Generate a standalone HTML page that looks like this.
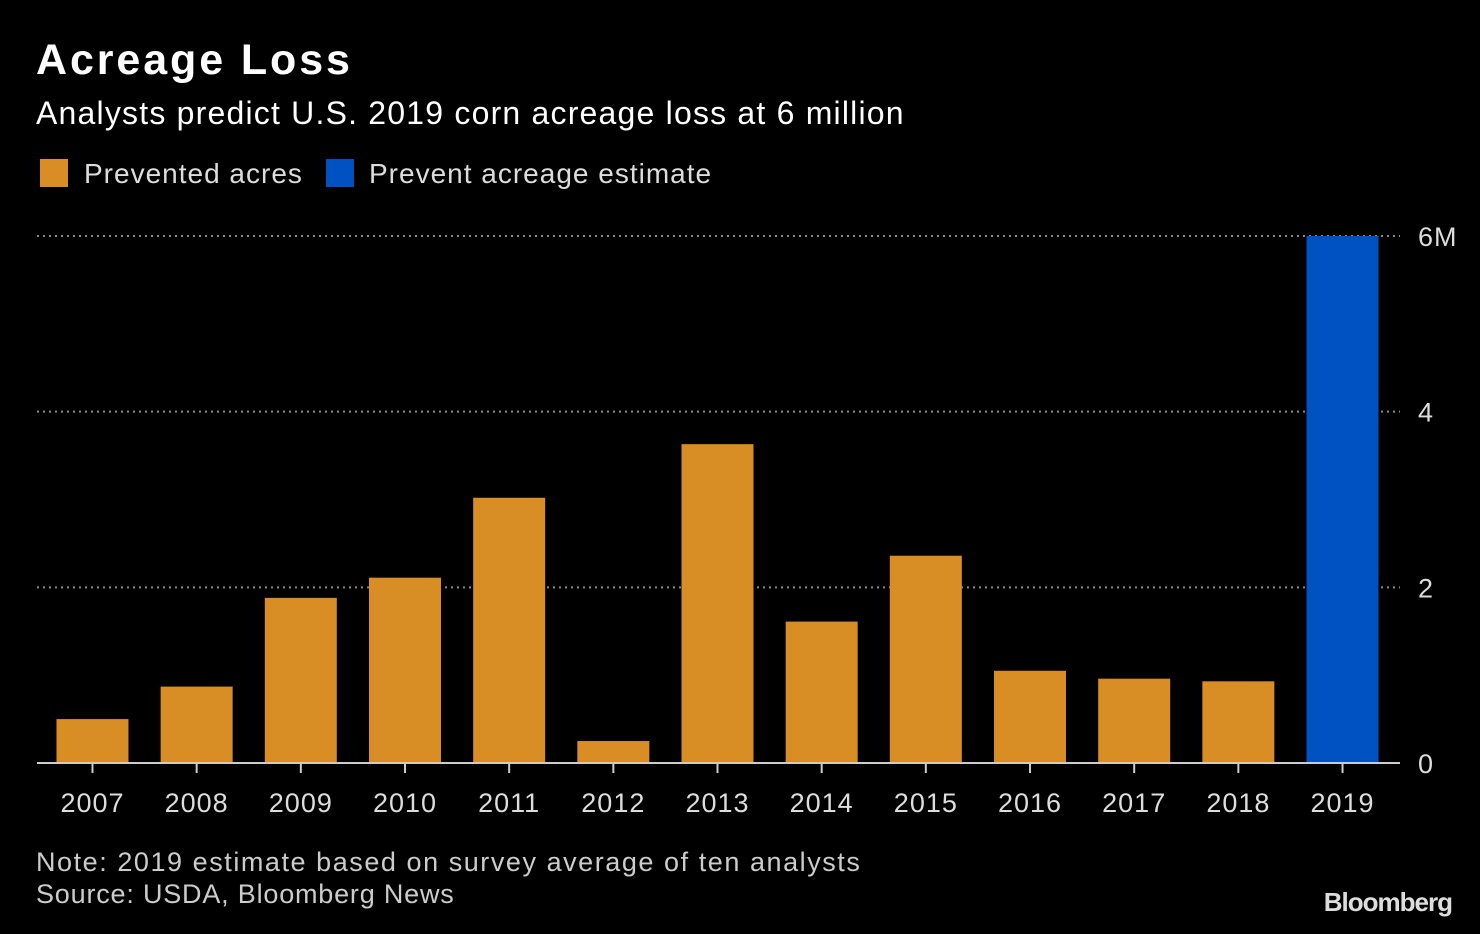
<!DOCTYPE html>
<html><head><meta charset="utf-8"><style>
body{margin:0;background:#000;width:1480px;height:934px;overflow:hidden;font-family:"Liberation Sans",sans-serif;color:#fff;position:relative}
.t{position:absolute;white-space:nowrap}
</style></head><body>
<div class="t" style="left:36px;top:36px;font-size:43px;font-weight:bold;letter-spacing:2.9px">Acreage Loss</div>
<div class="t" style="left:36px;top:95px;font-size:32px;letter-spacing:1.2px">Analysts predict U.S. 2019 corn acreage loss at 6 million</div>
<div class="t" style="left:40px;top:158px;font-size:28px;color:#ddd;letter-spacing:1px"><span style="display:inline-block;width:28px;height:28px;background:#d98d25;vertical-align:-4px;margin-right:16px"></span>Prevented acres</div>
<div class="t" style="left:326px;top:158px;font-size:28px;color:#ddd;letter-spacing:1px"><span style="display:inline-block;width:28px;height:28px;background:#0052c2;vertical-align:-4px;margin-right:15px"></span>Prevent acreage estimate</div>
<svg id="c" width="1480" height="934" style="position:absolute;left:0;top:0"></svg>
<div class="t" style="left:36px;top:847px;font-size:27px;color:#ccc;letter-spacing:1.55px">Note: 2019 estimate based on survey average of ten analysts</div>
<div class="t" style="left:36px;top:879px;font-size:27px;color:#ccc;letter-spacing:0.8px">Source: USDA, Bloomberg News</div>
<div class="t" style="right:28px;top:887px;font-size:26px;font-weight:bold;color:#ddd;letter-spacing:-1px">Bloomberg</div>
<script>
const categories=["2007","2008","2009","2010","2011","2012","2013","2014","2015","2016","2017","2018","2019"];
const values=[0.50,0.87,1.88,2.11,3.02,0.25,3.63,1.61,2.36,1.05,0.96,0.93,6.0];
const isEstimate=[0,0,0,0,0,0,0,0,0,0,0,0,1];
const yTicks=[0,2,4,6];
const yTickLabels=["0","2","4","6M"];
const NS="http://www.w3.org/2000/svg";
const svg=document.getElementById('c');
const x0=40.4,band=104.17,barW=72,yBase=763,yTop=236,yMax=6;
const y=v=>yBase-(v/yMax)*(yBase-yTop);
const xc=i=>x0+band*(i+0.5);
function mk(t,a){const e=document.createElementNS(NS,t);for(const k in a)e.setAttribute(k,a[k]);svg.appendChild(e);return e;}
yTicks.forEach((v,i)=>{
 if(v>0){const g=mk('line',{x1:37,x2:1400,y1:y(v),y2:y(v),stroke:'#888','stroke-width':2,'stroke-dasharray':'2,4'});
 
 }
 const t=mk('text',{x:1418,y:y(v)+10,fill:'#ddd','font-size':27,'font-family':'Liberation Sans','letter-spacing':1});t.textContent=yTickLabels[i];
 
 
});
values.forEach((v,i)=>{
 const r=mk('rect',{x:xc(i)-barW/2,y:y(v),width:barW,height:yBase-y(v),fill:isEstimate[i]?'#0052c2':'#d98d25'});
 
 
 const tk=mk('line',{x1:xc(i),x2:xc(i),y1:yBase,y2:yBase+10,stroke:'#ccc','stroke-width':2});
 
 
 const t=mk('text',{x:xc(i),y:812,fill:'#ddd','font-size':27,'text-anchor':'middle','font-family':'Liberation Sans','letter-spacing':1});t.textContent=categories[i];
 
 
});
const ax=mk('line',{x1:37,x2:1400,y1:yBase,y2:yBase,stroke:'#ccc','stroke-width':2});


</script>
</body></html>
